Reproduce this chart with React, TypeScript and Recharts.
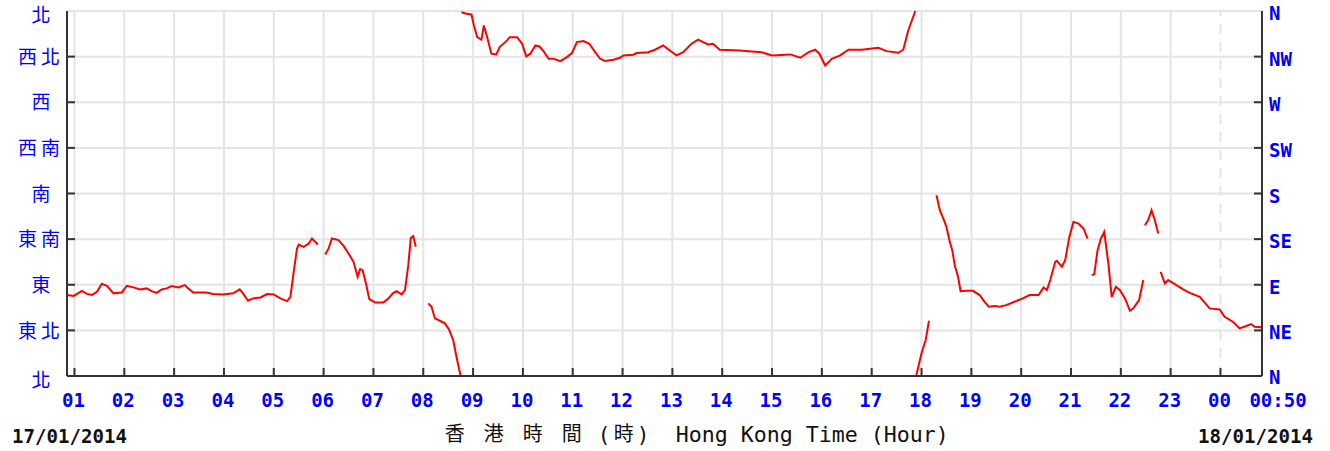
import React from 'react';
import { LineChart, Line, XAxis, YAxis, CartesianGrid, ReferenceLine } from 'recharts';

// Time in minutes since 00:00 on 17/01/2014
const times: number[] = [
  51, 59, 69, 75, 81, 87, 93, 99, 107, 117, 123, 131, 139, 147, 153, 159, 165, 171, 177, 185,
  193, 197, 203, 219, 227, 239, 251, 259, 263, 269, 275, 284, 292, 300, 308, 316, 320, 324, 328, 330,
  336, 342, 346, 353, 358, 362, 366, 370, 378, 384, 390, 396, 401, 404, 407, 411, 415, 422, 432, 438,
  444, 448, 454, 458, 462, 465, 468, 471, 478, 486, 490, 494, 500, 506, 511, 516, 520, 525, 525.5, 526,
  532, 538, 541, 545, 550, 553, 557, 562, 568, 572, 581, 584, 593, 599, 604, 609, 615, 620, 625, 631,
  637, 645, 653, 659, 665, 673, 680, 687, 693, 699, 709, 717, 721, 733, 737, 751, 759, 769, 777, 785,
  793, 803, 811, 817, 823, 829, 837, 861, 887, 900, 922, 934, 944, 952, 957, 964, 972, 982, 992, 1008,
  1028, 1038, 1052, 1058, 1064, 1072.5, 1073, 1073.5, 1080, 1085, 1089, 1094, 1098, 1102, 1107, 1110, 1114, 1117, 1120, 1124,
  1127, 1134, 1142, 1150, 1156, 1161, 1168, 1174, 1182, 1192, 1202, 1210, 1221, 1227, 1231, 1235, 1241, 1243, 1249, 1253,
  1258, 1263, 1269, 1275, 1280, 1283, 1285, 1288, 1292, 1296, 1300, 1305, 1309, 1314, 1319, 1325, 1331, 1335, 1342, 1347,
  1348, 1349, 1353, 1357, 1361, 1365, 1366, 1368, 1373, 1377, 1387, 1395, 1403, 1415, 1427, 1439, 1445, 1455, 1463, 1471,
  1477, 1481, 1490,
];

// Wind direction in degrees (0/360 = N); null = break in the trace
const directions: (number | null)[] = [
  80, 79, 84, 81, 80, 83, 91, 89, 81.5, 82.4, 89, 87.4, 85.4, 86.4, 83.7, 82, 85.4, 86.4, 88.7, 87.4,
  89.6, 86.4, 82.4, 82.4, 80.8, 80.5, 81.5, 85.4, 81.5, 74.2, 76.5, 77.5, 80.8, 80.5, 76.5, 73.9, 78.1, 102.7, 125.8, 129.7,
  127.4, 130.7, 135.6, 129.7, null, 119.9, 125.8, 135.6, 134, 128.3, 120.9, 112.6, 97.8, 105.4, 104.4, 91.3, 75.8, 72.6, 72.6, 76.5,
  82, 83.7, 80.5, 84.7, 109.3, 136.2, 137.9, 127.4, null, 71.6, 68.3, 56.8, 54.5, 51.9, 46, 35.5, 19, 0, null, 358.8,
  357.3, 356.6, 345.7, 334.2, 331.7, 345.7, 334.2, 317.9, 317.2, 324.4, 331, 334.2, 334.2, 327.7, 315.2, 317.9, 326, 325, 320.1, 312.9,
  312.9, 310.6, 314.5, 318.5, 329.3, 330.3, 327.7, 319.4, 312.9, 310.6, 311.9, 313.9, 316.2, 316.9, 318.5, 319.4, 321.8, 326, 321.1, 316.2,
  319.4, 327.7, 331.7, 329.3, 327, 327.7, 321.8, 321.1, 319.4, 316.2, 317.2, 313.9, 319.4, 321.8, 317.9, 306.3, 312.9, 316.2, 321.8, 321.8,
  323.8, 320.4, 318.8, 321.8, 340.8, 360, null, 0, 22.4, 35.5, 54.5, null, 178.3, 163.5, 153.7, 147.1, 132.3, 124.1, 109.3, 97.8,
  83.7, 84, 84, 79.8, 73.2, 68.3, 69, 68.3, 69.9, 73.2, 76.5, 79.8, 79.8, 87.4, 84.7, 94.6, 112.6, 113.6, 107.7, 114.3,
  137.2, 152, 150.4, 145.5, 135.6, null, 99.5, 100.5, 124.1, 135.6, 142.1, 111, 78.1, 88, 84.7, 76.5, 64.3, 66.7, 74.9, 94.6,
  null, 148.7, 153.7, 163.5, 153.7, 140.6, null, 102.7, 91.3, 94.6, 89.6, 85.4, 82, 78.1, 66.7, 65.7, 58.4, 53.5, 47, 49.3,
  51.2, 48.6, 48,
];

const xTicks: number[] = [60, 120, 180, 240, 300, 360, 420, 480, 540, 600, 660, 720, 780, 840, 900, 960, 1020, 1080, 1140, 1200, 1260, 1320, 1380, 1440, 1490];
const xTickLabels: string[] = ['01', '02', '03', '04', '05', '06', '07', '08', '09', '10', '11', '12', '13', '14', '15', '16', '17', '18', '19', '20', '21', '22', '23', '00', '00:50'];
const dayChangeTick = 1440;

const dirTicks: number[] = [0, 45, 90, 135, 180, 225, 270, 315, 360];
const leftLabels: string[] = ['北', '東北', '東', '東南', '南', '西南', '西', '西北', '北'];
const rightLabels: string[] = ['N', 'NE', 'E', 'SE', 'S', 'SW', 'W', 'NW', 'N'];

const startDate = '17/01/2014';
const endDate = '18/01/2014';
const titleZh: string[] = ['香', '港', '時', '間'];
const titleEn = 'Hong Kong Time (Hour)';

const data = times.map((t, i) => ({ t, dir: directions[i] }));

const W = 1330;
const H = 451;
const PLOT_LEFT = 67;
const PLOT_RIGHT = 1262;
const PLOT_TOP = 11;
const PLOT_BOTTOM = 376;
const BLUE = '#0000ff';
const AXIS = '#333333';
const GRID = '#e4e4e4';
const MONO = '"DejaVu Sans Mono", "Liberation Mono", monospace';
const CJK = '"Noto Sans CJK TC", "Noto Sans CJK SC", sans-serif';

const LeftTick = (props: any) => {
  const { y, payload } = props;
  const v = payload.value;
  const i = dirTicks.indexOf(v);
  const edge = v === 0 || v === 360;
  return (
    <g>
      {!edge && <line x1={PLOT_LEFT} x2={PLOT_LEFT + 8} y1={y} y2={y} stroke={AXIS} strokeWidth={2} />}
      <text x={41} y={y + (edge ? 4 : 0)} dy="0.38em" textAnchor="middle" fill={BLUE} fontSize={19} fontFamily={CJK} letterSpacing={leftLabels[i].length > 1 ? 4 : 0}>
        {leftLabels[i]}
      </text>
    </g>
  );
};

const RightTick = (props: any) => {
  const { y, payload } = props;
  const v = payload.value;
  const i = dirTicks.indexOf(v);
  const edge = v === 0 || v === 360;
  return (
    <g>
      {!edge && <line x1={PLOT_RIGHT - 8} x2={PLOT_RIGHT} y1={y} y2={y} stroke={AXIS} strokeWidth={2} />}
      <text x={1269} y={y + (v === 0 ? 8 : 9)} textAnchor="start" fill={BLUE} fontSize={19} fontWeight="bold" fontFamily={MONO}>
        {rightLabels[i]}
      </text>
    </g>
  );
};

const BottomTick = (props: any) => {
  const { x, payload } = props;
  const v = payload.value;
  const i = xTicks.indexOf(v);
  const last = i === xTicks.length - 1;
  return (
    <g>
      {!last && <line x1={x} x2={x} y1={PLOT_BOTTOM} y2={PLOT_BOTTOM - 8} stroke={AXIS} strokeWidth={2} />}
      <text x={last ? x + 16 : x - 1} y={407} textAnchor="middle" fill={BLUE} fontSize={19} fontWeight="bold" fontFamily={MONO}>
        {xTickLabels[i]}
      </text>
    </g>
  );
};

export default function App() {
  return (
    <div style={{ position: 'absolute', left: 0, top: 0, width: W, height: H, background: '#fff' }}>
      <LineChart
        width={W}
        height={H}
        data={data}
        margin={{ top: PLOT_TOP, right: 0, left: 0, bottom: 35 }}
      >
        <CartesianGrid yAxisId="left" vertical={false} stroke={GRID} strokeWidth={2} />
        {xTicks.slice(0, -1).map((t) => (
          <ReferenceLine
            key={t}
            x={t}
            yAxisId="left"
            stroke={GRID}
            strokeWidth={2}
            strokeDasharray={t === dayChangeTick ? '10 8' : undefined}
          />
        ))}
        <XAxis
          dataKey="t"
          type="number"
          domain={[51, 1490]}
          ticks={xTicks}
          interval={0}
          height={40}
          axisLine={{ stroke: AXIS, strokeWidth: 2 }}
          tickLine={false}
          tick={<BottomTick />}
          allowDataOverflow
        />
        <XAxis
          xAxisId="top"
          orientation="top"
          dataKey="t"
          type="number"
          domain={[51, 1490]}
          height={0}
          tick={false}
          tickLine={false}
          axisLine={{ stroke: AXIS, strokeWidth: 2 }}
        />
        <YAxis
          yAxisId="left"
          type="number"
          domain={[0, 360]}
          ticks={dirTicks}
          interval={0}
          width={PLOT_LEFT}
          axisLine={{ stroke: AXIS, strokeWidth: 2 }}
          tickLine={false}
          tick={<LeftTick />}
        />
        <YAxis
          yAxisId="right"
          orientation="right"
          type="number"
          domain={[0, 360]}
          ticks={dirTicks}
          interval={0}
          width={W - PLOT_RIGHT}
          axisLine={{ stroke: AXIS, strokeWidth: 2 }}
          tickLine={false}
          tick={<RightTick />}
          allowDataOverflow
        />
        <Line
          yAxisId="right"
          type="linear"
          dataKey="dir"
          stroke="none"
          strokeOpacity={0}
          dot={false}
          activeDot={false}
          legendType="none"
          isAnimationActive={false}
        />
        <Line
          yAxisId="left"
          type="linear"
          dataKey="dir"
          stroke="#ff0000"
          strokeWidth={2}
          dot={false}
          activeDot={false}
          connectNulls={false}
          isAnimationActive={false}
        />
      </LineChart>
      <svg width={W} height={H} style={{ position: 'absolute', left: 0, top: 0, pointerEvents: 'none' }}>
        <text x={12} y={443} fontFamily={MONO} fontWeight="bold" fontSize={19} fill="#111" textLength={115} lengthAdjust="spacingAndGlyphs">{startDate}</text>
        <text x={1198} y={443} fontFamily={MONO} fontWeight="bold" fontSize={19} fill="#111" textLength={115} lengthAdjust="spacingAndGlyphs">{endDate}</text>
        {titleZh.map((c, i) => (
          <text key={i} x={454.7 + i * 39} y={441} textAnchor="middle" fontFamily={CJK} fontSize={20} fill="#111">{c}</text>
        ))}
        <text x={604.2} y={442} textAnchor="middle" fontFamily={MONO} fontSize={21} fill="#111">(</text>
        <text x={623.7} y={441} textAnchor="middle" fontFamily={CJK} fontSize={20} fill="#111">時</text>
        <text x={643.2} y={442} textAnchor="middle" fontFamily={MONO} fontSize={21} fill="#111">)</text>
        <text x={675.7} y={442} fontFamily={MONO} fontSize={21} fill="#111" textLength={273} lengthAdjust="spacingAndGlyphs">{titleEn}</text>
      </svg>
    </div>
  );
}
